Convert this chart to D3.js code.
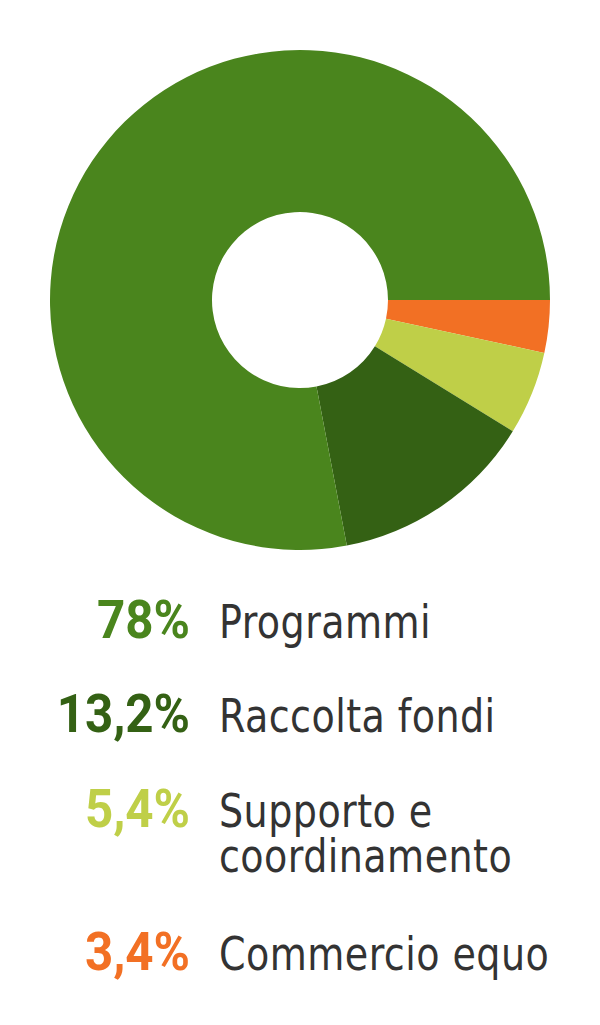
<!DOCTYPE html>
<html>
<head>
  <meta charset="utf-8">
  <title>Ripartizione spese</title>
  <script src="https://cdn.jsdelivr.net/npm/d3@7"></script>
  <style>
    body { margin: 0; background: #fff; }
  </style>
</head>
<body>
  <script>
    // Dati
    const categorie = ["Commercio equo", "Supporto e coordinamento", "Raccolta fondi", "Programmi"];
    const valori = [3.4, 5.4, 13.2, 78];
    const colori = ["#f27024", "#bfcf48", "#346114", "#4a851d"];
    // Legenda (ordine come nella figura)
    const legendaEtichette = ["78%", "13,2%", "5,4%", "3,4%"];
    const legendaTesti = [["Programmi"], ["Raccolta fondi"], ["Supporto e", "coordinamento"], ["Commercio equo"]];
    const legendaColori = ["#4a851d", "#346114", "#bfcf48", "#f27024"];

    const w = 600;
    const h = 1025;

    const svg = d3.select("body")
      .append("svg")
      .attr("width", w)
      .attr("height", h);

    // Ciambella
    const pie = d3.pie()
      .sort(null)
      .startAngle(Math.PI / 2)
      .endAngle(Math.PI / 2 + 2 * Math.PI);

    const arc = d3.arc()
      .innerRadius(88)
      .outerRadius(250);

    svg.append("g")
      .attr("transform", "translate(300,300)")
      .selectAll("path")
      .data(pie(valori))
      .enter()
      .append("path")
      .attr("d", arc)
      .attr("fill", function(d, i) { return colori[i]; });

    // Legenda
    const baseline = [638, 732, 827, 970];
    const lineHeight = 45;

    const righe = svg.selectAll("g.riga")
      .data(legendaEtichette)
      .enter()
      .append("g")
      .attr("class", "riga");

    // percentuali, un po' strette come il DIN dell'originale
    righe.append("g")
      .attr("transform", function(d, i) { return "translate(190," + baseline[i] + ") scale(0.93,1)"; })
      .append("text")
      .text(function(d) { return d; })
      .attr("x", 0)
      .attr("y", 0)
      .attr("text-anchor", "end")
      .attr("font-family", "Roboto, 'DejaVu Sans', sans-serif")
      .attr("font-weight", "bold")
      .attr("font-size", "53px")
      .attr("fill", function(d, i) { return legendaColori[i]; });

    righe.each(function(d, i) {
      const t = d3.select(this).append("g")
        .attr("transform", "translate(219," + baseline[i] + ") scale(0.9,1)")
        .append("text")
        .attr("x", 0)
        .attr("y", 0)
        .attr("font-family", "'DejaVu Sans Condensed', 'DejaVu Sans', sans-serif")
        .attr("font-size", "47px")
        .attr("letter-spacing", "0.5px")
        .attr("fill", "#333333");
      t.selectAll("tspan")
        .data(legendaTesti[i])
        .enter()
        .append("tspan")
        .attr("x", 0)
        .attr("dy", function(s, j) { return j === 0 ? 0 : lineHeight; })
        .text(function(s) { return s; });
    });
  </script>
</body>
</html>
